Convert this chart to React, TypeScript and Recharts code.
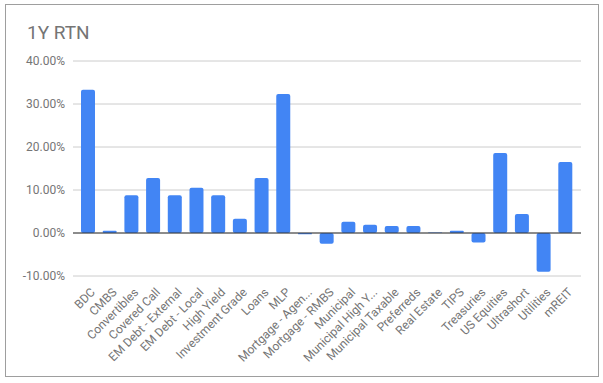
import React from 'react';
import { BarChart, Bar, XAxis, YAxis, CartesianGrid, ReferenceLine } from 'recharts';

const categories = [
  'BDC', 'CMBS', 'Convertibles', 'Covered Call', 'EM Debt - External', 'EM Debt - Local',
  'High Yield', 'Investment Grade', 'Loans', 'MLP', 'Mortgage - Agen...', 'Mortgage - RMBS',
  'Municipal', 'Municipal High Y...', 'Municipal Taxable', 'Preferreds', 'Real Estate', 'TIPS',
  'Treasuries', 'US Equities', 'Ultrashort', 'Utilities', 'mREIT',
];
const returns = [
  33.3, 0.5, 8.8, 12.8, 8.8, 10.5, 8.8, 3.3, 12.8, 32.3, -0.3, -2.5,
  2.6, 1.9, 1.6, 1.6, 0.1, 0.5, -2.2, 18.6, 4.4, -9.0, 16.5,
];
const yTicks = [-10, 0, 10, 20, 30, 40];

const data = categories.map((name, i) => ({ name, value: returns[i] }));

const font = 'Roboto, Arial, sans-serif';

const XTick = (props: any) => {
  const { x, y, payload } = props;
  const ax = x + 8;
  const ay = y + 9;
  return (
    <text
      x={ax}
      y={ay}
      transform={`rotate(-45, ${ax}, ${ay})`}
      textAnchor="end"
      fontSize={12}
      fontFamily={font}
      fill="#757575"
    >
      {payload.value}
    </text>
  );
};

export default function App() {
  return (
    <div style={{ position: 'absolute', left: 0, top: 0, width: 603, height: 383, background: '#fff' }}>
      <div
        style={{
          position: 'absolute',
          left: 5,
          top: 4,
          width: 592,
          height: 371,
          border: '1px solid #9e9e9e',
        }}
      />
      <div
        style={{
          position: 'absolute',
          left: 27,
          top: 21,
          fontFamily: font,
          fontSize: 19,
          color: '#757575',
        }}
      >
        1Y RTN
      </div>
      <div style={{ position: 'absolute', left: 0, top: 0 }}>
        <BarChart
          width={603}
          height={383}
          data={data}
          margin={{ top: 61, right: 22, left: 0, bottom: 0 }}
        >
          <CartesianGrid vertical={false} stroke="#cccccc" />
          <XAxis
            dataKey="name"
            interval={0}
            axisLine={false}
            tickLine={false}
            tick={<XTick />}
            padding={{ left: 4, right: 5 }}
            height={107}
          />
          <YAxis
            width={73}
            domain={[-10, 40]}
            ticks={yTicks}
            axisLine={false}
            tickLine={false}
            tickFormatter={(v: number) => `${v.toFixed(2)}%`}
            tick={{ fill: '#757575', fontSize: 12, fontFamily: font }}
          />
          <ReferenceLine y={0} stroke="#333333" />
          <Bar dataKey="value" fill="#4285f4" barSize={14} radius={2} isAnimationActive={false} />
        </BarChart>
      </div>
    </div>
  );
}
